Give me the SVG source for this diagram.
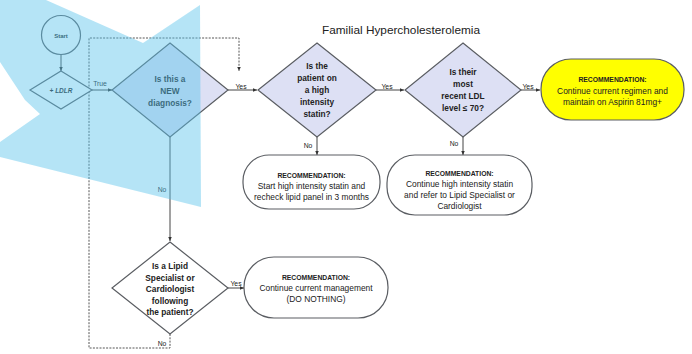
<svg xmlns="http://www.w3.org/2000/svg" width="692" height="354" viewBox="0 0 692 354">
<defs>
<marker id="ah" markerWidth="5" markerHeight="5" refX="4.5" refY="2.5" orient="auto" markerUnits="userSpaceOnUse">
<path d="M0,0.5 L4.5,2.5 L0,4.5 Z" fill="#333"/>
</marker>
<style>
.sh{stroke:#5a5d62;stroke-width:1.2;}
.dia{fill:#dde0f4;}
.wh{fill:#ffffff;}
.ln{fill:none;stroke:#444;stroke-width:1;}
.dash{fill:none;stroke:#555;stroke-width:1;stroke-dasharray:2,1.3;}
text{font-family:"Liberation Sans",Arial,sans-serif;fill:#222;text-anchor:middle;}
.q{font-size:8.3px;font-weight:bold;}
.rh{font-size:6.8px;font-weight:bold;}
.rt{font-size:8.4px;}
.lb{font-size:6.8px;}
</style>
</defs>
<rect width="692" height="354" fill="#ffffff"/>
<text x="401" y="34" style="font-size:11.8px">Familial Hypercholesterolemia</text>

<g id="connectors">
<line class="ln" x1="61" y1="55" x2="61" y2="71" marker-end="url(#ah)"/>
<line class="ln" x1="92" y1="90" x2="112" y2="90" marker-end="url(#ah)"/>
<line class="ln" x1="228" y1="90" x2="257" y2="90" marker-end="url(#ah)"/>
<line class="ln" x1="376" y1="90" x2="404" y2="90" marker-end="url(#ah)"/>
<line class="ln" x1="521" y1="90" x2="540" y2="90" marker-end="url(#ah)"/>
<line class="ln" x1="317" y1="137" x2="317" y2="155" marker-end="url(#ah)"/>
<line class="ln" x1="463" y1="137" x2="463" y2="155" marker-end="url(#ah)"/>
<line class="ln" x1="170" y1="137" x2="170" y2="241" marker-end="url(#ah)"/>
<line class="ln" x1="228" y1="288" x2="244" y2="288" marker-end="url(#ah)"/>
<polyline class="dash" points="170,334 170,348 89,348 89,38 239,38 239,71" marker-end="url(#ah)"/>
<text class="lb" x="100" y="86">True</text>
<text class="lb" x="241" y="88.5">Yes</text>
<text class="lb" x="387" y="88.5">Yes</text>
<text class="lb" x="528" y="89">Yes</text>
<text class="lb" x="308" y="148">No</text>
<text class="lb" x="454" y="146">No</text>
<text class="lb" x="162" y="192">No</text>
<text class="lb" x="236" y="286">Yes</text>
<text class="lb" x="162" y="345.5">No</text>
</g>

<g id="start">
<circle class="sh wh" cx="61" cy="35" r="19.5"/>
<text x="61" y="37.5" style="font-size:6px;font-weight:bold">Start</text>
</g>

<g id="ldlr">
<polygon class="sh wh" points="61,71 92,90 61,109 30,90"/>
<text x="61" y="92.5" style="font-size:6.5px;font-weight:bold;font-style:italic">+ LDLR</text>
</g>

<g id="new-diagnosis">
<polygon class="sh dia" points="170,43 228,90 170,137 112,90"/>
<text class="q" x="170" y="82">Is this a</text>
<text class="q" x="170" y="94">NEW</text>
<text class="q" x="170" y="106">diagnosis?</text>
</g>

<g id="high-statin">
<polygon class="sh dia" points="317,43 376,90 317,137 258,90"/>
<text class="q" x="317" y="69">Is the</text>
<text class="q" x="317" y="81">patient on</text>
<text class="q" x="317" y="93">a high</text>
<text class="q" x="317" y="105">intensity</text>
<text class="q" x="317" y="117">statin?</text>
</g>

<g id="ldl-level">
<polygon class="sh dia" points="463,43 521,90 463,137 405,90"/>
<text class="q" x="463" y="75">Is their</text>
<text class="q" x="463" y="87">most</text>
<text class="q" x="463" y="99">recent LDL</text>
<text class="q" x="463" y="111">level ≤ 70?</text>
</g>

<g id="rec-continue-aspirin">
<rect class="sh" x="541" y="59" width="143" height="61" rx="30" fill="#ffff00"/>
<text class="rh" x="612.5" y="81.5">RECOMMENDATION:</text>
<text class="rt" x="612.5" y="94">Continue current regimen and</text>
<text class="rt" x="612.5" y="104.5">maintain on Aspirin 81mg+</text>
</g>

<g id="rec-start-statin">
<rect class="sh wh" x="243" y="155" width="137" height="54" rx="26"/>
<text class="rh" x="311.5" y="177.5">RECOMMENDATION:</text>
<text class="rt" x="311.5" y="189">Start high intensity statin and</text>
<text class="rt" x="311.5" y="200">recheck lipid panel in 3 months</text>
</g>

<g id="rec-refer">
<rect class="sh wh" x="387" y="155" width="145" height="60" rx="28"/>
<text class="rh" x="459.5" y="175.5">RECOMMENDATION:</text>
<text class="rt" x="459.5" y="187">Continue high intensity statin</text>
<text class="rt" x="459.5" y="198">and refer to Lipid Specialist or</text>
<text class="rt" x="459.5" y="209">Cardiologist</text>
</g>

<g id="lipid-specialist">
<polygon class="sh wh" points="170,242 228,288 170,334 112,288"/>
<text class="q" x="170" y="269">Is a Lipid</text>
<text class="q" x="170" y="280.5">Specialist or</text>
<text class="q" x="170" y="292">Cardiologist</text>
<text class="q" x="170" y="303.5">following</text>
<text class="q" x="170" y="315">the patient?</text>
</g>

<g id="rec-do-nothing">
<rect class="sh wh" x="244" y="257" width="144" height="61" rx="30"/>
<text class="rh" x="316" y="279.5">RECOMMENDATION:</text>
<text class="rt" x="316" y="291">Continue current management</text>
<text class="rt" x="316" y="302">(DO NOTHING)</text>
</g>

<polygon id="blue-overlay" points="0,0 46,0 143,43 200,5 201,207 0,157 0,142 40,114 25,100 0,62" fill="#5cc4ea" fill-opacity="0.45"/>
</svg>
